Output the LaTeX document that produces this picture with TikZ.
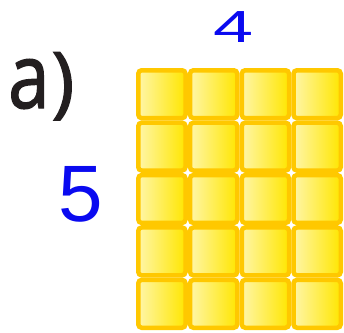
\documentclass[tikz,border=0pt]{standalone}
\usepackage{graphicx}
\usepackage{fontspec}
\setmainfont{Open Sans}
\newfontfamily\digitfont{Liberation Sans}
\newfontfamily\partfont[FakeBold=1.6]{Open Sans}
\definecolor{cellrim}{HTML}{FFC800}
\definecolor{cellpale}{HTML}{FFF6A8}
\definecolor{cellgold}{HTML}{FFE600}
\definecolor{inkblue}{HTML}{0A0AF0}
\definecolor{labelgray}{HTML}{231F20}
\tikzset{
    cell/.style={rectangle, rounded corners=3.5pt, draw=cellrim, line width=4.5pt,
        left color=cellpale, right color=cellgold, inner sep=0pt,
        minimum width=47.25pt, minimum height=47.9pt},
    handdigit/.style={text=inkblue, inner sep=0pt}
}
\begin{document}
\begin{tikzpicture}[x=1pt, y=-1pt]
    \useasboundingbox (0,0) rectangle (344,332);

    % Part label
    \node[anchor=base west, text=labelgray, inner sep=0pt, font=\partfont\fontsize{78}{80}\selectfont] (part) at (8,108) {\scalebox{0.95}[1.15]{a}\kern2pt)};

    % Grid of unit squares: 4 columns, 5 rows
    \foreach \i in {1,...,4} {
        \foreach \j in {1,...,5} {
            \node[cell] (c\i\j) at ({136+51.75*(\i-0.5)}, {68+52.4*(\j-0.5)}) {};
        }
    }

    % Side lengths
    \node[handdigit, font=\digitfont\fontsize{45}{45}\selectfont, xscale=1.6] (width) at (234,27) {4};
    \node[handdigit, font=\digitfont\fontsize{80}{80}\selectfont] (height) at (81,194) {5};
\end{tikzpicture}
\end{document}
